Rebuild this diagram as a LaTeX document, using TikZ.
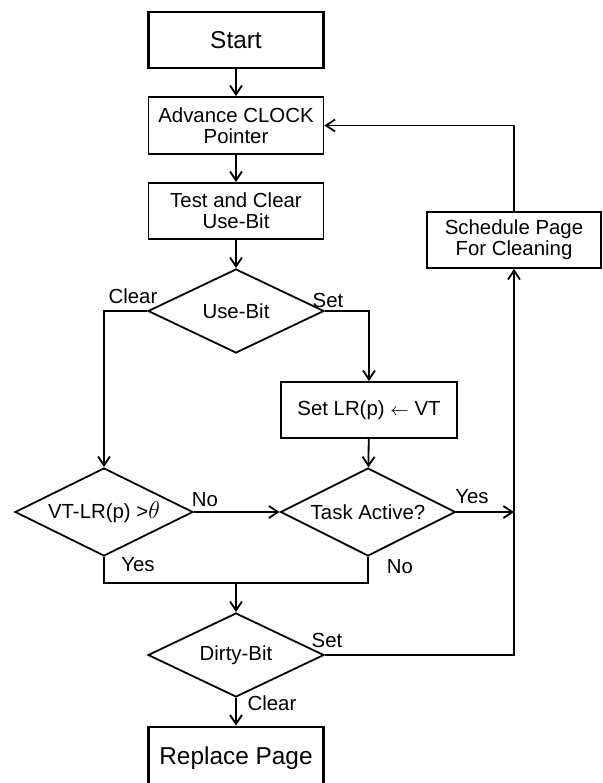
\documentclass[tikz,border=0pt]{standalone}
\usepackage{fontspec}
\setmainfont{Liberation Sans}
\usetikzlibrary{arrows.meta,shapes.geometric}

\begin{document}
\begin{tikzpicture}
    [x=0.5pt,y=-0.5pt,line width=0.9pt,
    >={Straight Barb[length=4.5pt,width=6pt]},
    box/.style={rectangle,draw,line width=0.9pt,inner sep=0pt,
    minimum width=87.5pt,minimum height=28pt,align=center,
    font=\fontsize{10.2}{10.5}\selectfont},
    terminal/.style={box,line width=1.4pt,font=\fontsize{12.2}{14}\selectfont},
    decision/.style={diamond,aspect=2,draw,line width=0.9pt,inner sep=0pt,
    minimum width=88pt,minimum height=42pt,font=\fontsize{10.2}{12}\selectfont},
    tag/.style={inner sep=0pt,font=\fontsize{10.2}{12}\selectfont}]
    \useasboundingbox (0,0) rectangle (603,783);
    \node (start) [terminal] at (236,40) {Start};
    \node (advance) [box,minimum height=28.5pt] at (236,125.5) {Advance CLOCK\\Pointer};
    \node (test) [box] at (236,211) {Test and Clear\\Use-Bit};
    \node (use bit) [decision] at (236,311) {Use-Bit};
    \node (set lr) [box,minimum width=88pt] at (369,410) {Set LR(p) {\small$\leftarrow$} VT};
    \node (age test) [decision,minimum width=89pt,minimum height=44pt] at (104,512) {VT-LR(p) >{\fontsize{13}{13}\selectfont$\theta$}};
    \node (task active) [decision,minimum width=87.5pt,minimum height=44pt] at (368,512) {Task Active?};
    \node (schedule) [box,minimum width=87pt] at (514,240) {Schedule Page\\For Cleaning};
    \node (dirty bit) [decision] at (236,655) {Dirty-Bit};
    \node (replace) [terminal,minimum height=31pt] at (236,758) {Replace Page};
    \coordinate (merge) at (236,583);
    \coordinate (join) at (schedule.south |- task active.east);

    % branch labels
    \node (use clear) [tag] at (133,296) {Clear};
    \node (use set) [tag] at (328,300) {Set};
    \node (age no) [tag] at (205,500) {No};
    \node (age yes) [tag] at (138,565) {Yes};
    \node (task yes) [tag] at (472,497) {Yes};
    \node (task no) [tag] at (400,567) {No};
    \node (dirty set) [tag] at (327,640) {Set};
    \node (dirty clear) [tag] at (272,703) {Clear};

    \draw [->] (start) -- (advance);
    \draw [->] (advance) -- (test);
    \draw [->] (test) -- (use bit);
    \draw [->] (use bit.west) -| (age test.north);
    \draw [->] (use bit.east) -| (set lr.north);
    \draw [->] (set lr) -- (task active);
    \draw [->] (age test.east) -- (task active.west);
    \draw [->] (task active.east) -- (join);
    \draw (age test.south) |- (merge) -| (task active.south);
    \draw [->] (merge) -- (dirty bit.north);
    \draw [->] (dirty bit.east) -| (schedule.south);
    \draw [->] (schedule.north) |- (advance.east);
    \draw [->] (dirty bit.south) -- (replace.north);
\end{tikzpicture}
\end{document}
